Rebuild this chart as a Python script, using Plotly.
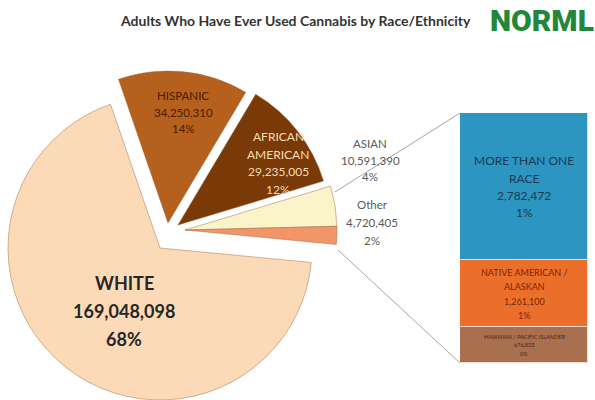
import math
import plotly.graph_objects as go

# ---------------- data ----------------
categories = ["HISPANIC", "AFRICAN AMERICAN", "ASIAN", "Other", "WHITE"]
display_lines = [["HISPANIC"], ["AFRICAN", "AMERICAN"], ["ASIAN"], ["Other"], ["WHITE"]]
values = [34250310, 29235005, 10591390, 4720405, 169048098]

bar_categories = ["HAWAIIAN / PACIFIC ISLANDER", "NATIVE AMERICAN / ALASKAN", "MORE THAN ONE RACE"]
bar_display_lines = [["HAWAIIAN / PACIFIC ISLANDER"], ["NATIVE AMERICAN /", "ALASKAN"], ["MORE THAN ONE", "RACE"]]
bar_values = [676833, 1261100, 2782472]

title_text = "Adults Who Have Ever Used Cannabis by Race/Ethnicity"
logo_text = "NORML"

# ---------------- styling ----------------
W, H = 595, 400
FONT = "Lato"
slice_colors = ["#B5601C", "#7A3A08", "#FBF3C9", "#F2966A", "#FCDAB8"]
bar_colors = ["#A8704F", "#EC6E2B", "#2C95C2"]

total = sum(values)
pcts = [round(100 * v / total) for v in values]
bar_pcts = [round(100 * v / total) for v in bar_values]

def fmt(v):
    return f"{v:,}"

def px(x, y):
    return x / W, 1 - y / H

R = 152
# per-slice centres (exploded pie layout), in pixels
centers = [(168, 223), (178, 225), (185, 230), (185, 230), (160, 248)]

fig = go.Figure()
for i, (cx, cy) in enumerate(centers):
    cols = ["rgba(0,0,0,0)"] * len(values)
    cols[i] = slice_colors[i]
    lw = [0] * len(values)
    lw[i] = 1
    fig.add_trace(go.Pie(
        labels=categories, values=values, sort=False, direction="clockwise",
        rotation=-19, textinfo="none", hoverinfo="label+value+percent",
        showlegend=False,
        marker=dict(colors=cols, line=dict(color="rgba(150,100,60,0.45)", width=lw)),
        domain=dict(x=[(cx - R) / W, (cx + R) / W],
                    y=[max(0, 1 - (cy + R) / H), min(1, 1 - (cy - R) / H)]),
    ))

# stacked bar (breakdown of "Other")
for name, v, c in zip(bar_categories, bar_values, bar_colors):
    fig.add_trace(go.Bar(
        x=[0], y=[v], name=name, width=1,
        marker=dict(color=c, line=dict(color="#F6D9CC", width=1.5)),
        showlegend=False, hoverinfo="name+y",
    ))

annotations = []

def add_block(x, y, lines, size, color, spacing, bold=False):
    """Place a multi-line label centred at pixel (x, y) with given line spacing (px)."""
    n = len(lines)
    for k, t in enumerate(lines):
        if bold:
            t = f"<b>{t}</b>"
        yy = y + (k - (n - 1) / 2) * spacing
        ax, ay = px(x, yy)
        annotations.append(dict(x=ax, y=ay, xref="paper", yref="paper", text=t, showarrow=False,
                                font=dict(family=FONT, size=size, color=color),
                                align="center", xanchor="center", yanchor="middle"))

# pie labels (label centre in px, font size, colour, line spacing, bold)
label_specs = [
    ((183, 112), 11.5, "#4A1C00", 16.5, False),
    ((278, 163), 12, "#F5DDB5", 17.5, False),
    ((370, 160), 11.5, "#595959", 16.5, False),
    ((372, 222), 11.5, "#595959", 18, False),
    ((124, 311), 18, "#262626", 28, True),
]
for i, v in enumerate(values):
    (x, y), size, color, sp, bold = label_specs[i]
    add_block(x, y, display_lines[i] + [fmt(v), f"{pcts[i]}%"], size, color, sp, bold)

# bar labels: centred on each segment (data coords)
bar_font = [(5.5, "#4A2614", 8.5), (9, "#7A2600", 14.5), (12, "#1C3A50", 17.3)]
span = sum(bar_values)
unit = span / 250.0  # data units per pixel of bar height
cum = 0
for i, v in enumerate(bar_values):
    ymid = cum + v / 2
    cum += v
    size, color, sp = bar_font[i]
    lines = bar_display_lines[i] + [fmt(v), f"{bar_pcts[i]}%"]
    n = len(lines)
    for k, t in enumerate(lines):
        yy = ymid - (k - (n - 1) / 2) * sp * unit
        annotations.append(dict(x=0, y=yy, xref="x", yref="y", text=t, showarrow=False,
                                font=dict(family=FONT, size=size, color=color),
                                xanchor="center", yanchor="middle"))

# title and logo
tx, ty = px(295, 21)
annotations.append(dict(x=tx, y=ty, xref="paper", yref="paper", text=f"<b>{title_text}</b>",
                        showarrow=False, font=dict(family=FONT, size=14, color="#333333"),
                        xanchor="center", yanchor="middle"))
lx, ly = px(542, 20)
annotations.append(dict(x=lx, y=ly, xref="paper", yref="paper", text=logo_text,
                        showarrow=False, font=dict(family="Roboto", size=30, color="#23873A", weight=900),
                        xanchor="center", yanchor="middle"))

# connector lines from pie to bar
x0a, y0a = px(335, 192)
x1a, y1a = px(460, 113)
x0b, y0b = px(338, 250)
x1b, y1b = px(460, 363)
shapes = [
    dict(type="line", xref="paper", yref="paper", x0=x0a, y0=y0a, x1=x1a, y1=y1a,
         line=dict(color="#A6A6A6", width=1)),
    dict(type="line", xref="paper", yref="paper", x0=x0b, y0=y0b, x1=x1b, y1=y1b,
         line=dict(color="#A6A6A6", width=1)),
]

fig.update_layout(
    width=W, height=H, margin=dict(l=0, r=0, t=0, b=0),
    paper_bgcolor="white", plot_bgcolor="white",
    barmode="stack", bargap=0,
    xaxis=dict(domain=[460 / W, 588 / W], range=[-0.5, 0.5], visible=False, fixedrange=True),
    yaxis=dict(domain=[1 - 363 / H, 1 - 113 / H], range=[0, sum(bar_values)], visible=False, fixedrange=True),
    annotations=annotations, shapes=shapes,
    font=dict(family=FONT),
)

fig.write_html("out.html", config={"displayModeBar": False},
               post_script="document.body.style.margin='0px';document.body.style.padding='0px';")
